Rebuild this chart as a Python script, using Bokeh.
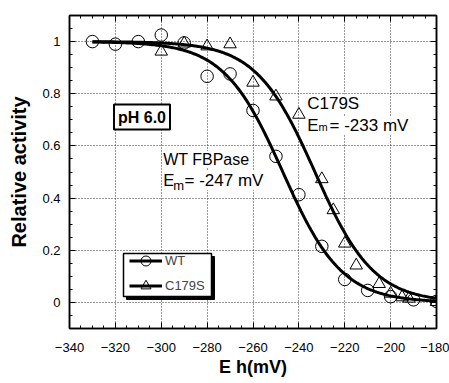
import math
import numpy as np
from bokeh.plotting import figure
from bokeh.models import (Range1d, LinearAxis, FixedTicker, NumeralTickFormatter,
                          Label, Legend, LegendItem, BoxAnnotation)
from bokeh.embed import file_html
from bokeh.resources import INLINE

# ---- data ----
wt_eh = [-330, -320, -310, -300, -290, -280, -270, -260, -250, -240, -230, -220, -210, -200, -190, -180]
wt_act = [1.00, 0.99, 1.00, 1.025, 0.995, 0.867, 0.876, 0.736, 0.56, 0.413, 0.215, 0.088, 0.046, 0.022, 0.01, 0.004]

c179s_eh = [-300, -290, -280, -270, -260, -250, -240, -230, -225, -220, -215, -205, -200, -195, -192, -180]
c179s_act = [0.962, 0.993, 0.982, 0.99, 0.843, 0.79, 0.72, 0.473, 0.354, 0.226, 0.142, 0.071, 0.034, 0.02, 0.015, 0.002]

# fitted Nernst curves (n = 2) with the midpoint potentials given on the chart
wt_em = -247
c179s_em = -233
n_electrons = 2
rt_over_f = 25.7  # mV
fit_start, fit_end = -330, -180

x_ticks = [-340, -320, -300, -280, -260, -240, -220, -200, -180]
y_ticks = [0, 0.2, 0.4, 0.6, 0.8, 1]

FONT = "Liberation Sans"

curve_eh = np.linspace(fit_start, fit_end, 301)
wt_curve = 1.0 / (1.0 + np.exp(n_electrons * (curve_eh - wt_em) / rt_over_f))
c179s_curve = 1.0 / (1.0 + np.exp(n_electrons * (curve_eh - c179s_em) / rt_over_f))

p = figure(width=449, height=383, x_range=Range1d(-340, -180), y_range=Range1d(-0.1, 1.1),
           output_backend="svg", toolbar_location=None,
           x_axis_location=None, y_axis_location=None,
           min_border_left=69, min_border_right=13, min_border_top=15, min_border_bottom=55)
p.background_fill_color = "white"
p.border_fill_color = "white"
p.outline_line_color = "black"
p.outline_line_width = 1.5

x_minor = list(range(-340, -175, 5))
y_minor = [round(-0.1 + 0.05 * i, 2) for i in range(25)]

bottom_axis = LinearAxis()
left_axis = LinearAxis()
top_axis = LinearAxis()
right_axis = LinearAxis()
p.add_layout(bottom_axis, "below")
p.add_layout(left_axis, "left")
p.add_layout(top_axis, "above")
p.add_layout(right_axis, "right")


def style_axis(ax, ticks, minor, show):
    ax.ticker = FixedTicker(ticks=ticks, minor_ticks=minor)
    ax.axis_line_color = "black"
    ax.axis_line_width = 1.5
    ax.major_tick_in = 6
    ax.major_tick_out = 0
    ax.minor_tick_in = 3
    ax.minor_tick_out = 0
    ax.major_tick_line_color = "black"
    ax.minor_tick_line_color = "black"
    ax.major_tick_line_width = 1
    ax.minor_tick_line_width = 1
    ax.major_label_text_font = FONT
    ax.major_label_text_color = "black"
    ax.major_label_text_font_size = "13px"
    if not show:
        ax.major_label_text_alpha = 0
        ax.major_label_text_font_size = "1px"
        ax.major_label_standoff = 0


style_axis(bottom_axis, x_ticks, x_minor, True)
style_axis(top_axis, x_ticks, x_minor, False)
style_axis(left_axis, y_ticks, y_minor, True)
style_axis(right_axis, y_ticks, y_minor, False)
bottom_axis.major_label_standoff = 14
left_axis.major_label_standoff = 9
left_axis.formatter = NumeralTickFormatter(format="0.[0]")

for ax, title, size, standoff in ((left_axis, "Relative activity", "20px", 9),
                                  (bottom_axis, "E h(mV)", "18px", 2)):
    ax.axis_label = title
    ax.axis_label_text_font = FONT
    ax.axis_label_text_font_style = "bold"
    ax.axis_label_text_font_size = size
    ax.axis_label_text_color = "black"
    ax.axis_label_standoff = standoff

p.xgrid.ticker = FixedTicker(ticks=x_ticks)
p.ygrid.ticker = FixedTicker(ticks=y_ticks)
for g in (p.xgrid, p.ygrid):
    g.grid_line_color = "#333333"
    g.grid_line_dash = "1 2"
    g.grid_line_width = 1

r_wt_line = p.line(curve_eh, wt_curve, line_color="black", line_width=3)
r_c_line = p.line(curve_eh, c179s_curve, line_color="black", line_width=3)
r_wt_pts = p.scatter(wt_eh, wt_act, marker="circle", size=12.5, fill_color=None,
                     line_color="black", line_width=1)
r_c_pts = p.scatter(c179s_eh, c179s_act, marker="triangle", size=12.5, fill_color=None,
                    line_color="black", line_width=1)

# legend frame with shadow (screen units, relative to the plot frame)
p.add_layout(BoxAnnotation(left=57, right=145, bottom=29, top=72,
                           left_units="screen", right_units="screen",
                           top_units="screen", bottom_units="screen",
                           fill_color="black", fill_alpha=1, line_color="black", line_alpha=1))
p.add_layout(BoxAnnotation(left=54, right=142, bottom=32, top=75,
                           left_units="screen", right_units="screen",
                           top_units="screen", bottom_units="screen",
                           fill_color="white", fill_alpha=1, line_color="black",
                           line_width=1.5, line_alpha=1))

legend = Legend(items=[LegendItem(label="WT", renderers=[r_wt_line, r_wt_pts]),
                       LegendItem(label="C179S", renderers=[r_c_line, r_c_pts])],
                location=(60, 30.5), orientation="vertical", padding=0, spacing=-7,
                glyph_width=33, glyph_height=25, label_standoff=3, margin=0,
                label_text_font=FONT, label_text_font_size="13px",
                border_line_alpha=0, background_fill_alpha=0)
p.add_layout(legend)


def add_text(text, x, y, size, bold=False, bg=True, **kw):
    lab = Label(x=x, y=y, x_units="screen", y_units="screen", text=text,
                text_font=FONT, text_font_size=size,
                text_font_style="bold" if bold else "normal",
                text_color="black", text_baseline=kw.pop("text_baseline", "alphabetic"),
                **kw)
    if bg:
        lab.background_fill_color = "white"
    p.add_layout(lab)
    return lab


add_text("pH 6.0", 72.5, 211.5, "16px", bold=True, text_align="center",
         text_baseline="middle", border_line_color="black", border_line_width=2, padding=4)

add_text("WT FBPase", 93.7, 169, "16px")
add_text("E", 93.7, 148, "17px")
add_text("m", 103.7, 143, "13px")
add_text("= -247 mV", 115, 148, "17px")

add_text("C179S", 237.7, 224.7, "17px")
add_text("E", 237.7, 203, "17px")
add_text("m", 249, 201.3, "11px")
add_text("= -233 mV", 260, 203, "17px")

open("out.html", "w").write(file_html(p, INLINE))
